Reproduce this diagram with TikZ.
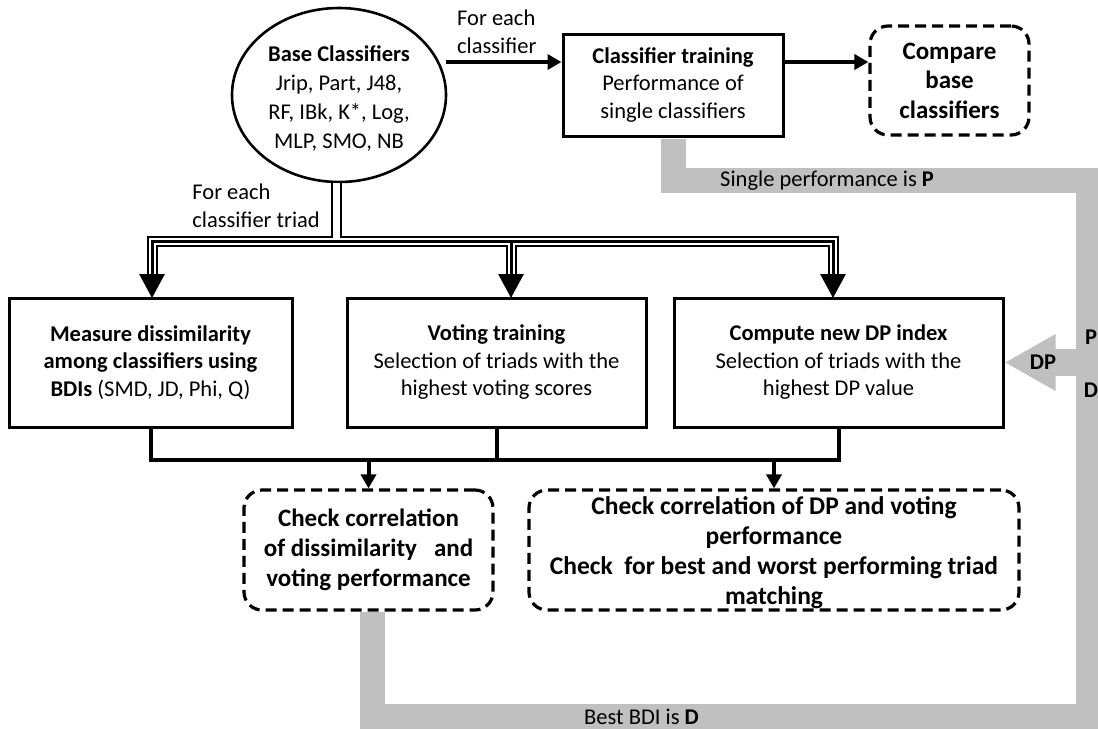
\documentclass[tikz,border=0pt]{standalone}
\usepackage{fontspec}
\setmainfont{Carlito}
\usetikzlibrary{arrows.meta,shapes.geometric,calc}
\definecolor{bandgray}{RGB}{192,192,192}
\newcommand\bodyfont{\fontsize{22.5}{27.5}\selectfont}
\newcommand\ellfont{\fontsize{22.5}{29}\selectfont}
\newcommand\bigfont{\fontsize{25}{29.5}\selectfont}
\newcommand\chkfont{\fontsize{25}{30}\selectfont}
\newcommand\chkwidefont{\fontsize{25.5}{30}\selectfont}
\begin{document}
\begin{tikzpicture}[x=1pt,y=-1pt,
  every node/.style={inner sep=0pt},
  solidbox/.style={draw, line width=3pt, align=center, font=\bodyfont},
  dashbox/.style={draw, line width=3.2pt, dash pattern=on 11pt off 6pt,
                  rounded corners=18pt, align=center},
  conn/.style={line width=4pt},
  arr/.style={conn, -{Triangle[width=15pt,length=14pt]}},
  band/.style={draw=bandgray, line width=25pt},
  bigtips/.style={{Triangle[width=25pt,length=24pt]}-{Triangle[width=25pt,length=24pt]}},
  bigtip/.style={-{Triangle[width=25pt,length=24pt]}}]

\clip (0,0) rectangle (1098,729);

% ---- nodes ----
\node[ellipse, draw, line width=2.6pt, minimum width=214pt, minimum height=174pt] (base) at (339,95) {};
\node[font=\ellfont, align=center] (basetext) at (339,99)
  {\textbf{Base Classifiers}\\Jrip, Part, J48,\\RF, IBk, K*, Log,\\MLP, SMO, NB};

\node[solidbox, minimum width=220pt, minimum height=102pt] (train) at (673,85)
  {\textbf{Classifier training}\\Performance of\\single classifiers};
\node[dashbox, font=\bigfont\bfseries, minimum width=159pt, minimum height=109pt] (cmp) at (949.5,80.5)
  {Compare\\base\\classifiers};

\node[solidbox, minimum width=283pt, minimum height=129pt] (meas) at (150.5,362.5)
  {\textbf{Measure dissimilarity}\\\textbf{among classifiers using}\\\textbf{BDIs} (SMD, JD, Phi, Q)};
\node[solidbox, minimum width=299pt, minimum height=129pt] (vote) at (496.5,362.5)
  {\textbf{Voting training}\\Selection of triads with the\\highest voting scores};
\node[solidbox, minimum width=329pt, minimum height=129pt] (dpidx) at (838.5,362.5)
  {\textbf{Compute new DP index}\\Selection of triads with the\\highest DP value};

\node[dashbox, font=\chkfont\bfseries, minimum width=249pt, minimum height=120pt] (cl) at (368.5,550)
  {Check correlation\\of dissimilarity\ \ \ and\\voting performance};
\node[dashbox, minimum width=490pt, minimum height=120pt] (cr) at (774,550) {};
\node[font=\chkwidefont\bfseries, align=center] (crtext) at (774,553)
  {Check correlation of DP and voting\\performance\\Check\ \ for best and worst performing triad\\matching};

\node[font=\bodyfont, align=left, anchor=west] (each) at (457,32) {For each\\classifier};
\node[font=\bodyfont, align=left, anchor=east] (triad) at (320,206) {For each\\classifier triad};

% ---- feedback band ----
\coordinate (bandR) at (1088,180);
\coordinate (bandB) at (372.5,716.5);
\coordinate (clfoot) at (372.5,612);
\draw[band] ($(train.south)+(0,1.5)$) -- (train.south |- bandR) -- (bandR)
  -- (bandR |- bandB) -- (bandB) -- (clfoot);
\draw[bandgray, line width=27pt, -{Triangle[width=53pt,length=51pt]}] (bandR |- dpidx.east) -- (dpidx.east);
\node[font=\bodyfont, anchor=west] (ptext) at (720,181) {Single performance is \textbf{P}};
\node[font=\bodyfont, anchor=west] (dtext) at (584,717) {Best BDI is \textbf{D}};
\node[font=\bodyfont\bfseries] (plab) at (1091,337) {P};
\node[font=\bodyfont\bfseries] (dlab) at (1091,390) {D};
\node[font=\bodyfont\bfseries] (dplab) at (1043,362) {DP};

% ---- top arrows ----
\coordinate (a1) at (446,62);
\draw[arr] (a1) -- (a1 -| train.west);
\draw[arr] (a1 -| train.east) -- (a1 -| cmp.west);

% ---- triple-line distribution to the three branches ----
\coordinate (j) at (336,241);
\coordinate (tL) at (152,298);
\coordinate (tM) at (511,298);
\coordinate (tR) at (833,298);
\foreach \w/\c in {11pt/black, 7pt/white} {
  \draw[line width=\w, draw=\c, shorten <=20pt, shorten >=20pt] (tL) |- (j) -| (tR);
  \draw[line width=\w, draw=\c, shorten >=20pt] (tM |- j) -- (tM);
  \draw[line width=\w, draw=\c] (base.south -| j) -- (j);
}
\draw[line width=3pt, bigtips] (tL) |- (j) -| (tR);
\draw[line width=3pt, bigtip] (tM |- j) -- (tM);

% ---- joining lines below the boxes ----
\coordinate (bus) at (496.5,460);
\draw[conn] (meas.south) |- (bus) -| (dpidx.south);
\draw[conn] (vote.south) -- (bus);
\draw[arr] (bus -| cl.north) -- (cl.north);
\draw[arr] (bus -| cr.north) -- (cr.north);
\end{tikzpicture}
\end{document}
